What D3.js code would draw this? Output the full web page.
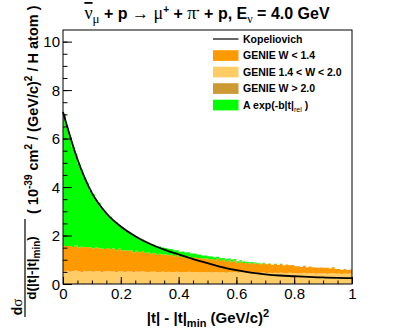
<!DOCTYPE html>
<html>
<head>
<meta charset="utf-8">
<script src="https://cdn.jsdelivr.net/npm/d3@7"></script>
<style>
  body { margin: 0; background: #fff; }
  svg { display: block; }
  text { font-family: "Liberation Sans", Arial, sans-serif; }
  .greek { font-family: "Liberation Serif", "DejaVu Serif", serif; font-weight: normal; }
</style>
</head>
<body>
<div id="chart"></div>
<script>
// stacked histogram contents, 100 bins of 0.01 in |t|-|t|min
const genieHighW = [
  0.02,0.03,0.02,0.02,0.03,0.02,0.02,0.03,0.02,0.02,
  0.02,0.02,0.03,0.02,0.02,0.02,0.03,0.02,0.02,0.02,
  0.02,0.02,0.02,0.03,0.02,0.02,0.02,0.02,0.03,0.02,
  0.02,0.02,0.02,0.02,0.02,0.03,0.02,0.02,0.02,0.02,
  0.02,0.02,0.02,0.02,0.02,0.02,0.02,0.02,0.02,0.02,
  0.02,0.02,0.02,0.02,0.02,0.02,0.02,0.02,0.02,0.02,
  0.02,0.02,0.02,0.02,0.02,0.02,0.02,0.02,0.02,0.02,
  0.02,0.02,0.02,0.02,0.02,0.02,0.02,0.02,0.02,0.02,
  0.02,0.02,0.02,0.02,0.02,0.02,0.02,0.02,0.02,0.02,
  0.02,0.02,0.02,0.02,0.02,0.02,0.02,0.02,0.02,0.02
];
const genieMidW = [
  0.50,0.52,0.49,0.51,0.53,0.50,0.48,0.51,0.50,0.52,
  0.49,0.51,0.50,0.47,0.50,0.52,0.49,0.50,0.48,0.51,
  0.50,0.48,0.51,0.49,0.47,0.50,0.49,0.51,0.48,0.47,
  0.49,0.50,0.47,0.48,0.50,0.46,0.49,0.48,0.47,0.49,
  0.46,0.48,0.47,0.49,0.46,0.47,0.48,0.45,0.47,0.46,
  0.47,0.45,0.46,0.48,0.45,0.46,0.44,0.46,0.45,0.47,
  0.44,0.46,0.45,0.43,0.45,0.44,0.46,0.43,0.44,0.45,
  0.43,0.44,0.42,0.44,0.43,0.45,0.42,0.43,0.44,0.42,
  0.43,0.41,0.42,0.44,0.41,0.42,0.43,0.40,0.42,0.41,
  0.42,0.40,0.41,0.43,0.40,0.41,0.39,0.41,0.40,0.41
];
const genieLowW = [
  1.05,1.02,1.06,1.00,1.03,0.99,1.04,0.98,1.01,0.97,
  0.96,0.99,0.94,0.97,0.92,0.95,0.91,0.94,0.89,0.92,
  0.86,0.89,0.84,0.87,0.82,0.85,0.80,0.83,0.78,0.81,
  0.74,0.77,0.72,0.75,0.70,0.73,0.68,0.71,0.66,0.69,
  0.63,0.66,0.60,0.64,0.58,0.62,0.57,0.60,0.55,0.58,
  0.53,0.56,0.50,0.54,0.49,0.52,0.47,0.50,0.45,0.48,
  0.42,0.45,0.40,0.43,0.38,0.42,0.37,0.40,0.36,0.39,
  0.36,0.38,0.34,0.37,0.33,0.36,0.32,0.35,0.31,0.34,
  0.28,0.30,0.26,0.29,0.25,0.28,0.24,0.26,0.23,0.25,
  0.23,0.25,0.21,0.24,0.20,0.19,0.17,0.19,0.16,0.17
];
const expFit = [
  5.43,4.87,4.50,4.12,3.78,3.45,3.17,2.88,2.63,2.35,
  2.23,1.95,1.88,1.66,1.57,1.36,1.34,1.15,1.15,0.96,
  0.97,0.84,0.81,0.70,0.72,0.58,0.55,0.47,0.46,0.40,
  0.40,0.33,0.34,0.30,0.29,0.27,0.26,0.23,0.24,0.19,
  0.22,0.18,0.21,0.16,0.20,0.15,0.16,0.14,0.13,0.12,
  0.12,0.10,0.11,0.08,0.10,0.07,0.09,0.07,0.08,0.06,
  0.06,0.05,0.06,0.04,0.05,0.03,0.04,0.02,0.03,0.02,
  0.02,0.01,0.01,0.01,0.00,0.01,0.00,0.00,0.00,0.00,
  0,0,0,0,0,0,0,0,0,0,
  0,0,0,0,0,0,0,0,0,0
];

// Kopeliovich prediction
const kopT = [0,0.05,0.10,0.15,0.20,0.25,0.30,0.35,0.40,0.45,0.50,0.55,0.60,0.65,0.70,0.75,0.80,0.85,0.90,0.95,1.00];
const kopValues = [7.10,5.15,3.76,2.92,2.37,1.97,1.66,1.42,1.22,1.03,0.86,0.70,0.57,0.47,0.40,0.35,0.32,0.29,0.27,0.25,0.24];

const seriesKeys = ["high", "mid", "low", "exp"];
const seriesColors = { low: "#ff9900", mid: "#ffcc66", high: "#cc9933", exp: "#00ff00" };
const legendLabels = ["Kopeliovich", "GENIE W < 1.4", "GENIE 1.4 < W < 2.0", "GENIE W > 2.0", "A exp(-b|t|"];
const legendKeys = ["line", "low", "mid", "high", "exp"];

const xTicks = [0, 0.2, 0.4, 0.6, 0.8, 1];
const yTicks = [0, 2, 4, 6, 8, 10];

const W = 415, H = 335;
const margin = { top: 30, right: 63, bottom: 51, left: 63 };

const svg = d3.select("#chart").append("svg")
    .attr("width", W)
    .attr("height", H);

const x = d3.scaleLinear().domain([0, 1]).range([margin.left, W - margin.right]);
const y = d3.scaleLinear().domain([0, 10.48]).range([H - margin.bottom, margin.top]);

// build bins and stack them
const nBins = genieMidW.length;
const bins = d3.range(nBins).map(i => ({
    x0: i / nBins, x1: (i + 1) / nBins,
    high: genieHighW[i], mid: genieMidW[i], low: genieLowW[i], exp: expFit[i]
}));
const stacked = d3.stack().keys(seriesKeys)(bins);

const area = d3.area()
    .x(d => x(d.x))
    .y0(d => y(d.lo))
    .y1(d => y(d.hi));

stacked.forEach(layer => {
    let pts = [];
    layer.forEach((s, i) => {
        pts.push({ x: bins[i].x0, lo: s[0], hi: s[1] });
        pts.push({ x: bins[i].x1, lo: s[0], hi: s[1] });
    });
    svg.append("path")
        .attr("d", area(pts))
        .attr("fill", seriesColors[layer.key])
        .attr("stroke", "none");
});

// Kopeliovich curve
const line = d3.line()
    .x((d, i) => x(kopT[i]))
    .y(d => y(d))
    .curve(d3.curveMonotoneX);

svg.append("path")
    .attr("d", line(kopValues))
    .attr("fill", "none")
    .attr("stroke", "#000")
    .attr("stroke-width", 1.8);

// axes: ticks drawn inward, ROOT style
const xMajor = d3.axisBottom(x).tickValues(xTicks).tickSize(-7).tickPadding(14).tickFormat(d3.format("~g"));
const xMinor = d3.axisBottom(x).tickValues(d3.range(0, 1.001, 0.05)).tickSize(-3.5).tickFormat("");
const yMajor = d3.axisLeft(y).tickValues(yTicks).tickSize(-9).tickPadding(12).tickFormat(d3.format("~g"));
const yMinor = d3.axisLeft(y).tickValues(d3.range(0, 10.01, 0.5)).tickSize(-4.5).tickFormat("");

function styleAxis(g) {
    g.select(".domain").remove();
    g.selectAll("line").attr("stroke", "#000");
    g.selectAll("text")
        .attr("fill", "#000")
        .style("font-size", "15px")
        .style("font-family", "'Liberation Sans', Arial, sans-serif");
}

svg.append("g").attr("transform", `translate(0,${y(0)})`).call(xMinor).call(styleAxis);
svg.append("g").attr("transform", `translate(0,${y(0)})`).call(xMajor).call(styleAxis)
    .selectAll("text").attr("dy", "0.71em").attr("y", 4);
svg.append("g").attr("transform", `translate(${x(0)},0)`).call(yMinor).call(styleAxis);
svg.append("g").attr("transform", `translate(${x(0)},0)`).call(yMajor).call(styleAxis)
    .selectAll("text").attr("x", -3).attr("dy", "0.35em");

// frame
svg.append("rect")
    .attr("x", x(0)).attr("y", y.range()[1])
    .attr("width", x(1) - x(0)).attr("height", y(0) - y.range()[1])
    .attr("fill", "none").attr("stroke", "#000").attr("stroke-width", 1);

// legend
const legend = svg.append("g").attr("transform", "translate(213,39)");
legendKeys.forEach((k, i) => {
    const row = legend.append("g").attr("transform", `translate(0,${i * 16.5})`);
    if (k === "line") {
        row.append("line").attr("x1", 0).attr("x2", 25.5).attr("y1", 0).attr("y2", 0)
            .attr("stroke", "#000").attr("stroke-width", 1.2);
    } else {
        row.append("rect").attr("x", 0).attr("y", -5.3).attr("width", 25.5).attr("height", 10.7)
            .attr("fill", seriesColors[k]);
    }
    const t = row.append("text").attr("x", 30).attr("y", 0).attr("dy", "0.35em")
        .style("font-size", "10.5px").style("font-weight", "bold")
        .text(legendLabels[i]);
    if (k === "exp") {
        t.append("tspan").attr("dy", "3").style("font-size", "7px").style("font-weight", "normal").text("rel");
        t.append("tspan").attr("dy", "-3").text(" )");
    }
});

// title
const title = svg.append("text")
    .attr("x", 207).attr("y", 19)
    .attr("text-anchor", "middle")
    .style("font-size", "16px").style("font-weight", "bold");
title.append("tspan").attr("class", "greek").style("font-size", "18px").attr("text-decoration", "overline").text("ν");
title.append("tspan").attr("class", "greek").attr("dy", 4).style("font-size", "13px").text("μ");
title.append("tspan").attr("dy", -4).text(" + p  ");
title.append("tspan").attr("class", "greek").style("font-size", "17px").text("→");
title.append("tspan").attr("class", "greek").style("font-size", "18px").text("  μ");
title.append("tspan").attr("dy", -6).style("font-size", "10px").text("+");
title.append("tspan").attr("dy", 6).text(" + ");
title.append("tspan").attr("class", "greek").style("font-size", "18px").text("π");
title.append("tspan").attr("dy", -6).style("font-size", "10px").text("-");
title.append("tspan").attr("dy", 6).text(" + p, E");
title.append("tspan").attr("class", "greek").attr("dy", 4).style("font-size", "12px").text("ν");
title.append("tspan").attr("dy", -4).text(" = 4.0 GeV");

// x axis title
const xt = svg.append("text")
    .attr("x", 208).attr("y", 323)
    .attr("text-anchor", "middle")
    .style("font-size", "15px").style("font-weight", "bold");
xt.append("tspan").text("|t| - |t|");
xt.append("tspan").attr("dy", 4).style("font-size", "11px").text("min");
xt.append("tspan").attr("dy", -4).text(" (GeV/c)");
xt.append("tspan").attr("dy", -6).style("font-size", "11px").text("2");

// y axis title (rotated)
const yt = svg.append("g").attr("transform", "rotate(-90)");
yt.append("text")
    .attr("x", -307).attr("y", 22)
    .attr("text-anchor", "middle")
    .style("font-size", "14px").style("font-weight", "bold")
    .text("d")
    .append("tspan").attr("class", "greek").style("font-size", "15px").text("σ");
yt.append("line")
    .attr("x1", -317).attr("x2", -219).attr("y1", 25).attr("y2", 25)
    .attr("stroke", "#000").attr("stroke-width", 1.2);
const den = yt.append("text")
    .attr("x", -268).attr("y", 35.5)
    .attr("text-anchor", "middle")
    .style("font-size", "13.5px").style("font-weight", "bold");
den.append("tspan").text("d(|t|-|t|");
den.append("tspan").attr("dy", 4).style("font-size", "10px").text("min");
den.append("tspan").attr("dy", -4).text(")");
const unit = yt.append("text")
    .attr("x", -214).attr("y", 37.5)
    .attr("text-anchor", "start")
    .style("font-size", "14.5px").style("font-weight", "bold");
unit.append("tspan").text("( 10");
unit.append("tspan").attr("dy", -6).style("font-size", "10px").text("-39");
unit.append("tspan").attr("dy", 6).text(" cm");
unit.append("tspan").attr("dy", -6).style("font-size", "10px").text("2");
unit.append("tspan").attr("dy", 6).text(" / (GeV/c)");
unit.append("tspan").attr("dy", -6).style("font-size", "10px").text("2");
unit.append("tspan").attr("dy", 6).text(" / H atom )");
</script>
</body>
</html>
